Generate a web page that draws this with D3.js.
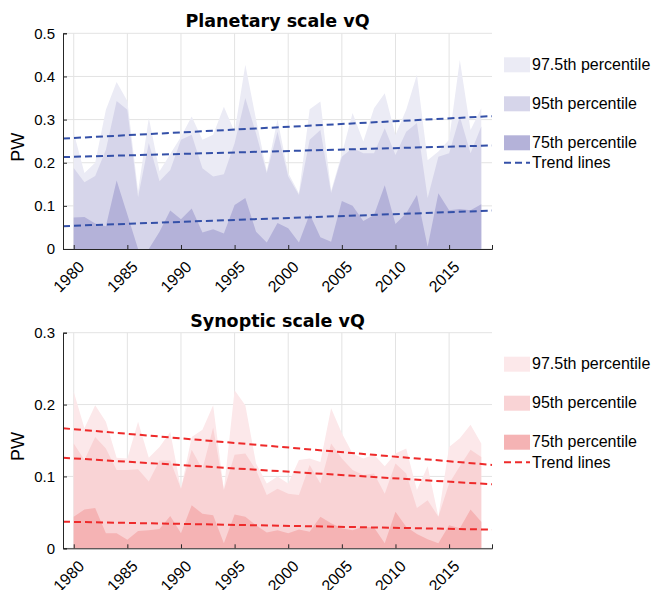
<!DOCTYPE html>
<html>
<head>
<meta charset="utf-8">
<script src="https://cdn.jsdelivr.net/npm/d3@7"></script>
<style>
  body { margin: 0; background: #fff; }
  text { font-family: "Liberation Sans", Arial, sans-serif; fill: #000; }
</style>
</head>
<body>
<svg id="chart"></svg>
<script>
var years = [1980,1981,1982,1983,1984,1985,1986,1987,1988,1989,
             1990,1991,1992,1993,1994,1995,1996,1997,1998,1999,
             2000,2001,2002,2003,2004,2005,2006,2007,2008,2009,
             2010,2011,2012,2013,2014,2015,2016,2017,2018];
var xTicks = [1980,1985,1990,1995,2000,2005,2010,2015];
var seriesNames = ['97.5th percentile','95th percentile','75th percentile'];

// planetary scale
var plan975 = [0.27,0.176,0.20,0.323,0.387,0.343,0.134,0.304,0.18,0.22,
               0.26,0.307,0.253,0.265,0.33,0.272,0.427,0.30,0.18,0.30,
               0.176,0.129,0.324,0.342,0.135,0.22,0.315,0.249,0.326,0.361,
               0.264,0.323,0.404,0.206,0.226,0.253,0.438,0.276,0.326];
var plan95  = [0.188,0.155,0.169,0.23,0.343,0.323,0.12,0.246,0.157,0.183,
               0.253,0.265,0.187,0.168,0.173,0.245,0.35,0.268,0.176,0.272,
               0.168,0.125,0.253,0.276,0.13,0.214,0.234,0.222,0.222,0.28,
               0.218,0.272,0.292,0.118,0.214,0.222,0.307,0.222,0.284];
var plan75  = [0.073,0.074,0.059,0.053,0.159,0.08,0.0,0.0,0.04,0.089,
               0.069,0.094,0.038,0.046,0.036,0.102,0.118,0.04,0.015,0.06,
               0.048,0.015,0.081,0.027,0.017,0.111,0.1,0.065,0.079,0.148,
               0.058,0.083,0.125,0.005,0.129,0.09,0.093,0.09,0.104];
var planTrendStart = [0.256,0.213,0.053];   // at 1979
var planTrendEnd   = [0.308,0.24,0.089];    // at 2019
var planYTicks = [0,0.1,0.2,0.3,0.4,0.5];

// synoptic scale
var syn975 = [0.218,0.167,0.199,0.176,0.126,0.125,0.176,0.126,0.141,0.162,
              0.083,0.155,0.165,0.199,0.081,0.22,0.199,0.118,0.09,0.10,
              0.09,0.123,0.125,0.12,0.195,0.16,0.132,0.125,0.13,0.114,
              0.132,0.139,0.081,0.114,0.044,0.141,0.153,0.172,0.146];
var syn95  = [0.146,0.123,0.155,0.139,0.109,0.109,0.11,0.093,0.122,0.122,
              0.083,0.137,0.11,0.168,0.081,0.13,0.132,0.109,0.074,0.083,
              0.076,0.074,0.116,0.09,0.146,0.125,0.109,0.102,0.104,0.076,
              0.118,0.104,0.056,0.067,0.044,0.09,0.114,0.137,0.127];
var syn75  = [0.044,0.054,0.056,0.021,0.021,0.012,0.024,0.025,0.027,0.045,
              0.021,0.06,0.048,0.046,0.007,0.047,0.044,0.032,0.022,0.025,
              0.021,0.026,0.023,0.044,0.035,0.028,0.025,0.03,0.029,0.007,
              0.051,0.03,0.02,0.0125,0.007,0.032,0.028,0.054,0.037];
var synTrendStart = [0.167,0.126,0.037];
var synTrendEnd   = [0.116,0.089,0.026];
var synYTicks = [0,0.1,0.2,0.3];

var width = 654, height = 590;
var svg = d3.select('#chart').attr('width', width).attr('height', height);

var x = d3.scaleLinear().domain([1979, 2019]).range([63, 492]);

function drawPanel(p) {
  var g = svg.append('g');
  var y = d3.scaleLinear().domain([0, p.yMax]).range([p.bottom, p.top]);

  // grid
  g.selectAll('line.gx').data(xTicks).enter().append('line')
    .attr('x1', d => x(d)).attr('x2', d => x(d))
    .attr('y1', p.top).attr('y2', p.bottom)
    .attr('stroke', '#e3e3e3').attr('stroke-width', 1);
  g.selectAll('line.gy').data(p.yTicks).enter().append('line')
    .attr('x1', x.range()[0]).attr('x2', x.range()[1])
    .attr('y1', d => y(d)).attr('y2', d => y(d))
    .attr('stroke', '#e3e3e3').attr('stroke-width', 1);

  // areas
  var area = d3.area()
    .x((d, i) => x(years[i]))
    .y0(y(0))
    .y1(d => y(d));
  p.series.forEach(function(s, i) {
    g.append('path').datum(s).attr('d', area).attr('fill', p.colors[i]);
  });

  // trend lines
  p.trendStart.forEach(function(v, i) {
    g.append('line')
      .attr('x1', x(1979)).attr('y1', y(v))
      .attr('x2', x(2019)).attr('y2', y(p.trendEnd[i]))
      .attr('stroke', p.trendColor).attr('stroke-width', 2)
      .attr('stroke-dasharray', '7,4');
  });

  // axes
  var yAxis = g.append('g')
    .attr('transform', 'translate(' + x.range()[0] + ',0)')
    .call(d3.axisLeft(y).tickValues(p.yTicks).tickSize(-4).tickPadding(8)
      .tickFormat(d => d === 0 ? '0' : d3.format('.1f')(d)));
  var xAxis = g.append('g')
    .attr('transform', 'translate(0,' + p.bottom + ')')
    .call(d3.axisBottom(x).tickValues(xTicks).tickSize(-4).tickFormat(d3.format('d')));
  [yAxis, xAxis].forEach(function(a) {
    a.select('.domain').attr('stroke', '#262626');
    a.selectAll('.tick line').attr('stroke', '#262626');
    a.selectAll('text').style('font-size', '15px').attr('fill', '#000')
      .style('font-family', '"Liberation Sans", Arial, sans-serif');
  });
  xAxis.selectAll('text')
    .style('font-size', '16px')
    .attr('text-anchor', 'end')
    .attr('dy', null).attr('y', 0)
    .attr('transform', 'translate(11,19) rotate(-45)');

  // labels
  g.append('text')
    .attr('transform', 'translate(24,' + ((p.top + p.bottom) / 2 + 6) + ') rotate(-90)')
    .attr('text-anchor', 'middle')
    .style('font-size', '18px')
    .text('PW');
  g.append('text')
    .attr('x', (x.range()[0] + x.range()[1]) / 2).attr('y', p.top - 6)
    .attr('text-anchor', 'middle')
    .style('font-family', '"DejaVu Sans", sans-serif')
    .style('font-weight', 'bold').style('font-size', '17.5px')
    .text(p.title);

  // legend
  var lg = g.append('g').attr('transform', 'translate(504,' + (p.top + 24) + ')');
  seriesNames.forEach(function(name, i) {
    lg.append('rect').attr('x', 0).attr('y', i * 39).attr('width', 26).attr('height', 15)
      .attr('fill', p.colors[i]);
    lg.append('text').attr('x', 28).attr('y', i * 39 + 12.5)
      .style('font-size', '16px').text(name);
  });
  lg.append('line').attr('x1', 0).attr('x2', 26).attr('y1', 105.5).attr('y2', 105.5)
    .attr('stroke', p.trendColor).attr('stroke-width', 2).attr('stroke-dasharray', '7,4');
  lg.append('text').attr('x', 28).attr('y', 111).style('font-size', '16px').text('Trend lines');
}

drawPanel({
  title: 'Planetary scale vQ', top: 33.3, bottom: 249, yMax: 0.5, yTicks: planYTicks,
  series: [plan975, plan95, plan75],
  colors: ['#ebebf5', '#d6d5ea', '#b4b2d9'],
  trendStart: planTrendStart, trendEnd: planTrendEnd, trendColor: '#3450a8'
});
drawPanel({
  title: 'Synoptic scale vQ', top: 332.7, bottom: 548.3, yMax: 0.3, yTicks: synYTicks,
  series: [syn975, syn95, syn75],
  colors: ['#fce8ea', '#f9d3d5', '#f5b3b4'],
  trendStart: synTrendStart, trendEnd: synTrendEnd, trendColor: '#ee2a2a'
});
</script>
</body>
</html>
